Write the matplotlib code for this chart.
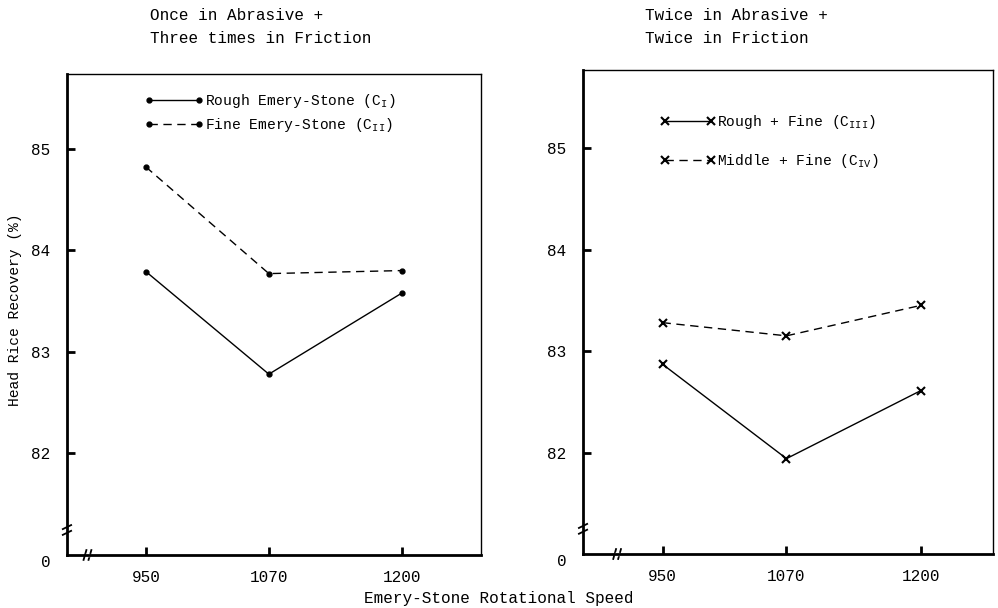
import numpy as np
import matplotlib.pyplot as plt
import matplotlib.transforms as mtransforms

plt.rcParams['font.family'] = ['Liberation Mono', 'DejaVu Sans Mono']
plt.rcParams['mathtext.fontset'] = 'custom'
plt.rcParams['mathtext.rm'] = 'Liberation Mono'
plt.rcParams['mathtext.it'] = 'Liberation Mono'

# rotational speed (rpm) and head rice recovery (%)
speed = [950, 1070, 1200]
rough_c1 = [83.79, 82.78, 83.58]
fine_c2 = [84.82, 83.77, 83.80]
rough_fine_c3 = [82.87, 81.94, 82.61]
middle_fine_c4 = [83.28, 83.15, 83.45]

yticks = [82, 83, 84, 85]
y_zero = 81.0   # the broken axis shows "0" here
titles = [("Once in Abrasive +", "Three times in Friction"),
          ("Twice in Abrasive +", "Twice in Friction")]

FS = 11.5
LFS = 10.5


def axis_breaks(ax, xb, yb):
    # little "//" on the x axis and "=" on the y axis
    kw = dict(color='black', lw=1.3, clip_on=False, solid_capstyle='butt')
    tr = ax.transAxes
    for dx in (-0.006, 0.006):
        ax.plot([xb + dx - 0.004, xb + dx + 0.004], [-0.012, 0.012], transform=tr, **kw)
    for dy in (-0.006, 0.006):
        ax.plot([-0.012, 0.012], [yb + dy - 0.005, yb + dy + 0.005], transform=tr, **kw)
    ax.plot([xb - 0.002, xb + 0.002], [0, 0], transform=tr, color='white', lw=2.5, clip_on=False)


def style(ax, ylim, xlim):
    ax.set_xlim(*xlim)
    ax.set_ylim(*ylim)
    ax.set_yticks([y_zero] + yticks)
    ax.set_yticklabels(['0'] + [str(t) for t in yticks])
    ax.set_xticks(speed)
    ax.set_xticklabels([str(s) for s in speed])
    ax.tick_params(axis='both', direction='in', length=6, width=2, labelsize=FS)
    ax.tick_params(axis='x', pad=11)
    ax.tick_params(axis='y', pad=12)
    t0 = ax.yaxis.get_major_ticks()[0]
    t0.tick1line.set_visible(False)
    # the "0" sits a little below the axis line
    off = mtransforms.ScaledTranslation(0, -6 / 100, ax.figure.dpi_scale_trans)
    t0.label1.set_transform(t0.label1.get_transform() + off)
    for s in ('left', 'bottom'):
        ax.spines[s].set_linewidth(2.0)
    for s in ('top', 'right'):
        ax.spines[s].set_linewidth(1.0)


fig = plt.figure(figsize=(9.98, 6.08), dpi=100)
ax1 = fig.add_axes([0.0671, 0.0872, 0.4149, 0.7911])
ax2 = fig.add_axes([0.5842, 0.0888, 0.4108, 0.7961])

ax1.plot(speed, rough_c1, '-', color='black', lw=1.0, marker='o', ms=3.5,
         label=r'Rough Emery-Stone (C$_{\mathrm{I}}$)')
ax1.plot(speed, fine_c2, '--', color='black', lw=1.0, dashes=(6, 4), marker='o', ms=3.5,
         label=r'Fine Emery-Stone (C$_{\mathrm{II}}$)')
style(ax1, (y_zero, 85.735), (873, 1277))
axis_breaks(ax1, (893 - 873) / (1277 - 873), 0.052)
ax1.legend(loc='upper left', bbox_to_anchor=(0.188, 0.963), frameon=False, numpoints=2,
           handlelength=4.0, handletextpad=0.15, borderpad=0, borderaxespad=0,
           labelspacing=0.4, fontsize=LFS)

ax2.plot(speed, rough_fine_c3, '-', color='black', lw=1.0, marker='x', ms=6, mew=1.5,
         label=r'Rough + Fine (C$_{\mathrm{III}}$)')
ax2.plot(speed, middle_fine_c4, '--', color='black', lw=1.0, dashes=(6, 4), marker='x', ms=6, mew=1.5,
         label=r'Middle + Fine (C$_{\mathrm{IV}}$)')
style(ax2, (y_zero, 85.77), (873, 1270))
axis_breaks(ax2, (906 - 873) / (1270 - 873), 0.052)
ax2.legend(loc='upper left', bbox_to_anchor=(0.19, 0.911), frameon=False, numpoints=2,
           handlelength=3.7, handletextpad=0.15, borderpad=0, borderaxespad=0,
           labelspacing=1.45, fontsize=LFS)

fig.text(0.015, 0.49, 'Head Rice Recovery (%)', fontsize=10.5, rotation=90,
         ha='center', va='center')

for (l1, l2), x in zip(titles, (0.150, 0.646)):
    fig.text(x, 0.975, l1, fontsize=FS, va='center', ha='left')
    fig.text(x, 0.937, l2, fontsize=FS, va='center', ha='left')

fig.text(0.5, 0.016, 'Emery-Stone Rotational Speed', fontsize=FS, ha='center', va='center')

fig.savefig('out.png', dpi=100)
